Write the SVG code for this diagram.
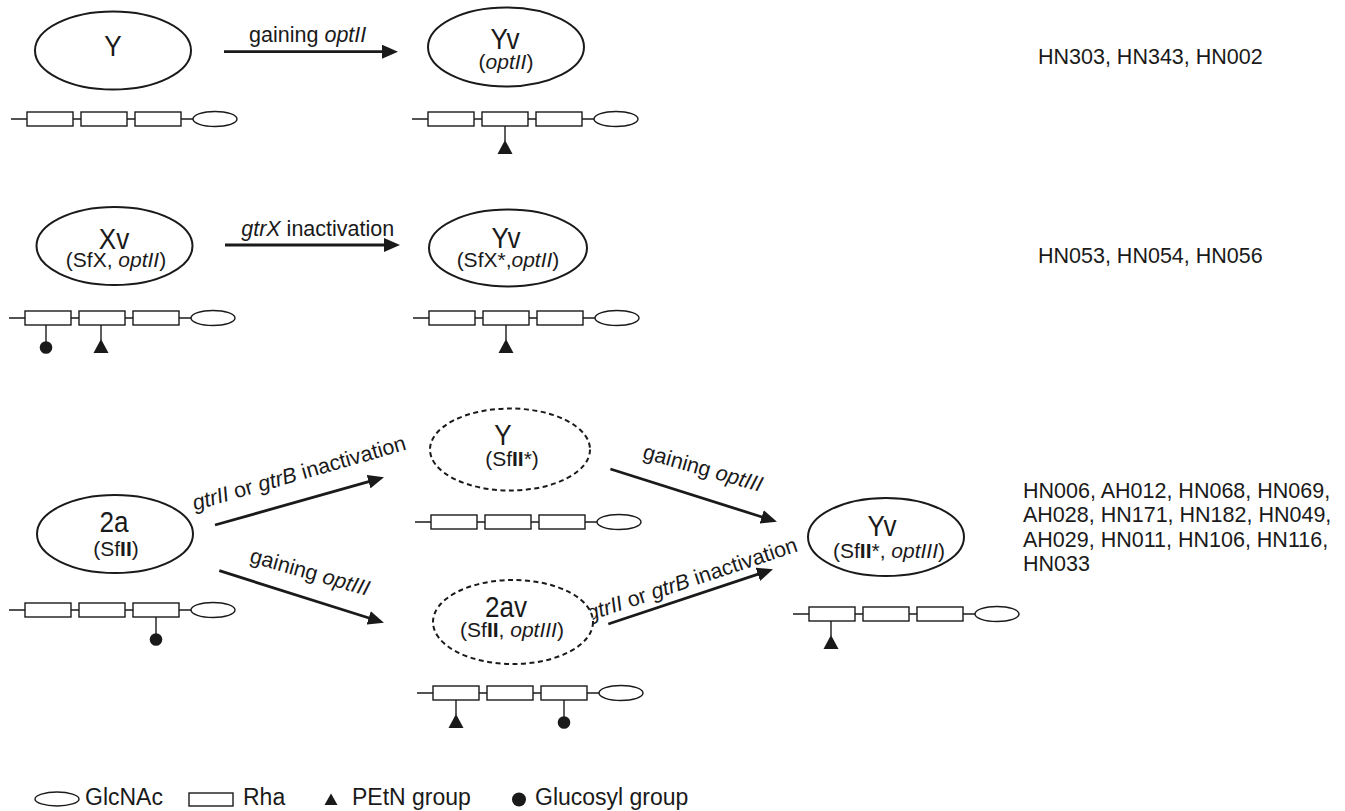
<svg xmlns="http://www.w3.org/2000/svg" xmlns:xlink="http://www.w3.org/1999/xlink" width="1345" height="811" viewBox="0 0 1345 811">
<style>
  text { font-family: "Liberation Sans", Arial, Helvetica, sans-serif; fill: #1a1a1a; }
  .main { font-size: 30px; text-anchor: middle; }
  .sub { font-size: 21px; text-anchor: middle; }
  .lbl { font-size: 21.5px; text-anchor: middle; }
  .hn { font-size: 21.5px; }
  .leg { font-size: 23px; }
  .it { font-style: italic; }
  .bd { font-weight: bold; }
  .node ellipse { fill: #fff; stroke: #1a1a1a; stroke-width: 2; }
  .node ellipse.dash { stroke-dasharray: 5 3.5; }
  .arrow { stroke: #1a1a1a; stroke-width: 2.8; fill: none; marker-end: url(#ah); }
  .ch { stroke: #1a1a1a; stroke-width: 1.4; fill: #fff; }
  .pd line { stroke: #1a1a1a; stroke-width: 1.4; }
  .pd path, .pd circle { fill: #1a1a1a; stroke: none; }
</style>
<defs>
  <marker id="ah" markerUnits="userSpaceOnUse" markerWidth="16" markerHeight="14" viewBox="0 0 16 14" refX="2" refY="7" orient="auto">
    <path d="M0,0 L16,7 L0,14 z" fill="#1a1a1a"/>
  </marker>
  <g id="chain" class="ch">
    <line x1="-16" y1="0" x2="166" y2="0"/>
    <rect x="0" y="-7" width="46" height="14"/>
    <rect x="54" y="-7" width="46" height="14"/>
    <rect x="108" y="-7" width="46" height="14"/>
    <ellipse cx="188" cy="0" rx="22" ry="7.5"/>
  </g>
  <g id="tri" class="pd">
    <line x1="0" y1="7" x2="0" y2="22"/>
    <path d="M0,21 L7.5,35 L-7.5,35 z"/>
  </g>
  <g id="glc" class="pd">
    <line x1="0" y1="7" x2="0" y2="24"/>
    <circle cx="0" cy="29.5" r="6.3"/>
  </g>
</defs>
<rect width="1345" height="811" fill="#fff"/>

<!-- Connectors -->
<g id="connectors">
  <line class="arrow" x1="224" y1="51.7" x2="384" y2="51.7"/>
  <line class="arrow" x1="225" y1="245" x2="386" y2="245"/>
  <line class="arrow" x1="215" y1="525" x2="370.5" y2="481.1"/>
  <line class="arrow" x1="219.3" y1="570.7" x2="370.6" y2="618.5"/>
  <line class="arrow" x1="610.4" y1="469" x2="763.6" y2="517.5"/>
  <line class="arrow" x1="608.3" y1="624" x2="759.7" y2="573.7"/>
  <text class="lbl" x="307.7" y="42">gaining <tspan class="it">optII</tspan></text>
  <text class="lbl" x="317.7" y="236"><tspan class="it">gtrX</tspan> inactivation</text>
  <text class="lbl" transform="translate(301,480) rotate(-16)"><tspan class="it">gtrII</tspan> or <tspan class="it">gtrB</tspan> inactivation</text>
  <text class="lbl" transform="translate(308,579) rotate(16)">gaining <tspan class="it">optIII</tspan></text>
  <text class="lbl" transform="translate(701,475) rotate(16)">gaining <tspan class="it">optIII</tspan></text>
  <text class="lbl" transform="translate(694,586) rotate(-18.5)"><tspan class="it">gtrII</tspan> or <tspan class="it">gtrB</tspan> inactivation</text>
</g>

<!-- Row 1 -->
<g id="node-Y" class="node">
  <ellipse cx="113" cy="50.5" rx="78" ry="39"/>
  <text class="main" transform="translate(113,56) scale(0.87,1)">Y</text>
  <use href="#chain" x="27" y="119"/>
</g>
<g id="node-Yv-optII" class="node">
  <ellipse cx="506" cy="47" rx="78" ry="39.5"/>
  <text class="main" transform="translate(505,49) scale(0.87,1)">Yv</text>
  <text class="sub" x="506" y="69">(<tspan class="it">optII</tspan>)</text>
  <use href="#chain" x="428" y="119"/>
  <use href="#tri" x="505" y="119"/>
</g>
<text id="strains-1" class="hn" x="1038" y="64">HN303, HN343, HN002</text>

<!-- Row 2 -->
<g id="node-Xv" class="node">
  <ellipse cx="114.5" cy="246" rx="78" ry="39"/>
  <text class="main" transform="translate(114,249) scale(0.87,1)">Xv</text>
  <text class="sub" x="116" y="267">(SfX, <tspan class="it">optII</tspan>)</text>
  <use href="#chain" x="25" y="318"/>
  <use href="#glc" x="46" y="318"/>
  <use href="#tri" x="101" y="318"/>
</g>
<g id="node-Yv-SfX" class="node">
  <ellipse cx="508" cy="248" rx="79" ry="38.5"/>
  <text class="main" transform="translate(506,248) scale(0.87,1)">Yv</text>
  <text class="sub" x="508" y="267">(SfX*,<tspan class="it">optII</tspan>)</text>
  <use href="#chain" x="429" y="318"/>
  <use href="#tri" x="506" y="318"/>
</g>
<text id="strains-2" class="hn" x="1038" y="263">HN053, HN054, HN056</text>

<!-- Row 3 -->
<g id="node-2a" class="node">
  <ellipse cx="115" cy="534" rx="78" ry="39"/>
  <text class="main" transform="translate(114,532) scale(0.87,1)">2a</text>
  <text class="sub" x="116" y="556">(Sf<tspan class="bd">II</tspan>)</text>
  <use href="#chain" x="25" y="610"/>
  <use href="#glc" x="156" y="610"/>
</g>
<g id="node-Y-SfII" class="node">
  <ellipse class="dash" cx="510" cy="449.5" rx="80" ry="41"/>
  <text class="main" transform="translate(503,445) scale(0.87,1)">Y</text>
  <text class="sub" x="512" y="466">(Sf<tspan class="bd">II</tspan>*)</text>
  <use href="#chain" x="431" y="522"/>
</g>
<g id="node-2av" class="node">
  <ellipse class="dash" cx="513" cy="622" rx="80" ry="42"/>
  <text class="main" transform="translate(506,617) scale(0.87,1)">2av</text>
  <text class="sub" x="512" y="637">(Sf<tspan class="bd">II</tspan>, <tspan class="it">optIII</tspan>)</text>
  <use href="#chain" x="433" y="693"/>
  <use href="#tri" x="456" y="693"/>
  <use href="#glc" x="564" y="693"/>
</g>
<g id="node-Yv-SfII" class="node">
  <ellipse cx="886" cy="537" rx="78" ry="39"/>
  <text class="main" transform="translate(882,536) scale(0.87,1)">Yv</text>
  <text class="sub" x="889" y="558">(Sf<tspan class="bd">II</tspan>*, <tspan class="it">optIII</tspan>)</text>
  <use href="#chain" x="809" y="614"/>
  <use href="#tri" x="831" y="614"/>
</g>
<g id="strains-3">
  <text class="hn" x="1023" y="498">HN006, AH012, HN068, HN069,</text>
  <text class="hn" x="1023" y="522.3">AH028, HN171, HN182, HN049,</text>
  <text class="hn" x="1023" y="546.6">AH029, HN011, HN106, HN116,</text>
  <text class="hn" x="1023" y="571">HN033</text>
</g>

<!-- Legend -->
<g id="legend">
  <ellipse class="ch" cx="57" cy="799" rx="22" ry="7"/>
  <text class="leg" x="85" y="805">GlcNAc</text>
  <rect class="ch" x="189" y="793" width="44" height="13"/>
  <text class="leg" x="243" y="805">Rha</text>
  <path d="M331,793.5 L337.5,805 L324.5,805 z" fill="#1a1a1a"/>
  <text class="leg" x="352" y="805">PEtN group</text>
  <circle cx="519" cy="799.5" r="7" fill="#1a1a1a"/>
  <text class="leg" x="535" y="805">Glucosyl group</text>
</g>
</svg>
